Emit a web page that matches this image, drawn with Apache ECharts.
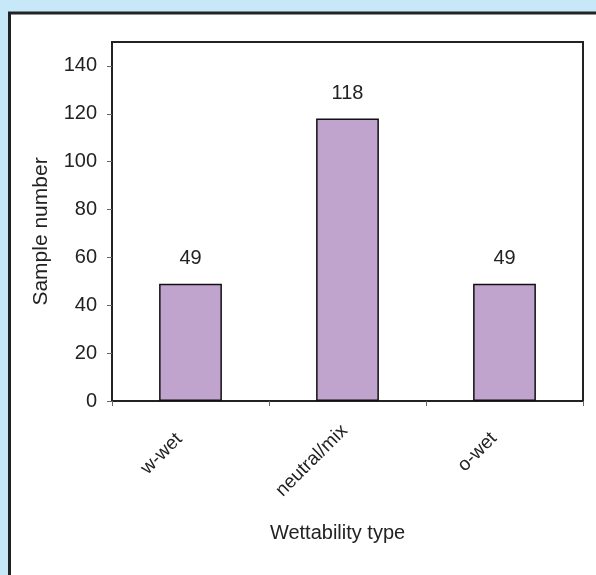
<!DOCTYPE html>
<html>
<head>
<meta charset="utf-8">
<script src="https://cdn.jsdelivr.net/npm/echarts@6/dist/echarts.min.js"></script>
<style>
html,body{margin:0;padding:0;background:#c7e8f8;}
#c{width:596px;height:575px;}
</style>
</head>
<body>
<div id="c"></div>
<script>
var categories = ['w-wet', 'neutral/mix', 'o-wet'];
var sampleCounts = [49, 118, 49];
var yTicks = [0, 20, 40, 60, 80, 100, 120, 140];

var chart = echarts.init(document.getElementById('c'), null, {renderer: 'canvas'});
var font = 'Liberation Sans, Arial, sans-serif';
// label offsets along the rotated text direction (styling only)
var labelShift = {'w-wet': 16, 'neutral/mix': 4, 'o-wet': 15};
var axisData = categories.map(function (c) {
  return {value: c, textStyle: {padding: [0, labelShift[c] || 0, 0, 0]}};
});
chart.setOption({
  backgroundColor: '#c7e8f8',
  animation: false,
  graphic: [{
    type: 'rect',
    shape: {x: 9.5, y: 13, width: 600, height: 600},
    style: {fill: '#ffffff', stroke: '#222222', lineWidth: 3},
    z: -10
  }],
  grid: {left: 112, top: 42, right: 13, bottom: 174, show: true, borderColor: '#222', borderWidth: 2, backgroundColor: 'transparent'},
  xAxis: {
    type: 'category',
    data: axisData,
    name: 'Wettability type',
    nameLocation: 'middle',
    nameGap: 122,
    nameTextStyle: {fontFamily: font, fontSize: 20, color: '#222', padding: [0, 20, 0, 0]},
    axisLine: {lineStyle: {color: '#222', width: 2}},
    axisTick: {show: true, length: 5, lineStyle: {color: '#666', width: 1}},
    axisLabel: {rotate: 45, fontFamily: font, fontSize: 19, color: '#222', margin: 24}
  },
  yAxis: {
    type: 'value',
    min: 0, max: 150, interval: 20,
    name: 'Sample number',
    nameLocation: 'middle',
    nameGap: 60,
    nameTextStyle: {fontFamily: font, fontSize: 21, color: '#222', padding: [0, 20, 0, 0]},
    splitLine: {show: false},
    axisLine: {show: true, lineStyle: {color: '#222', width: 2}},
    axisTick: {show: true, length: 5, lineStyle: {color: '#666', width: 1}},
    axisLabel: {fontFamily: font, fontSize: 20, color: '#222', margin: 15, showMaxLabel: false,
      formatter: function (v) { return yTicks.indexOf(v) >= 0 ? String(v) : ''; }}
  },
  series: [{
    type: 'bar',
    data: sampleCounts,
    barWidth: '40%',
    itemStyle: {color: '#c1a4cd', borderColor: '#111', borderWidth: 1.5},
    label: {show: true, position: 'top', distance: 15, fontFamily: font, fontSize: 20, color: '#222'}
  }]
});
</script>
</body>
</html>
